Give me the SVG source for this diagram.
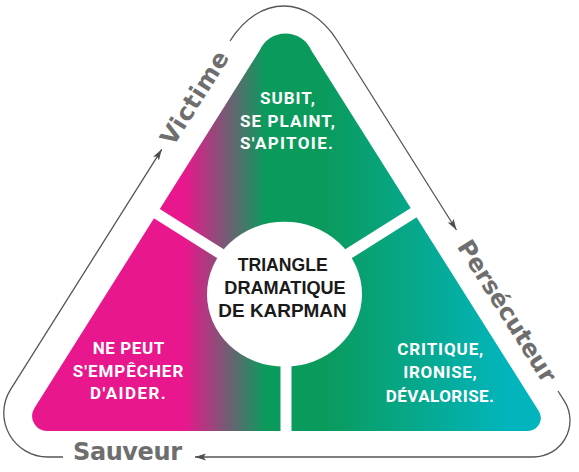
<svg xmlns="http://www.w3.org/2000/svg" width="579" height="472" viewBox="0 0 579 472">
<style>
.lab{font-family:"DejaVu Sans","Liberation Sans",sans-serif;font-weight:bold;font-size:24px;fill:#6e6e6e}
.wt{font-family:Roboto,"Liberation Sans",sans-serif;font-weight:bold;font-size:17px;fill:#ffffff}
.ct{font-family:"Liberation Sans",Arial,sans-serif;font-weight:bold;font-size:19px;fill:#1a1a1a}
.conn{fill:none;stroke:#555555;stroke-width:1.3}
.band{stroke:#ffffff;stroke-width:11;fill:none}
</style>
<defs>
<linearGradient id="grad" gradientUnits="userSpaceOnUse" x1="0" y1="0" x2="579" y2="0">
<stop offset="0" stop-color="#E8178D"/>
<stop offset="0.32" stop-color="#E8178D"/>
<stop offset="0.458" stop-color="#0A9B5C"/>
<stop offset="0.56" stop-color="#0A9B5C"/>
<stop offset="0.88" stop-color="#02B5BD"/>
<stop offset="1" stop-color="#02B5BD"/>
</linearGradient>
<marker id="ah" markerWidth="12" markerHeight="8" refX="11" refY="4" orient="auto" markerUnits="userSpaceOnUse">
<path d="M0,0.5 L11,4 L0,7.5 L2.5,4 z" fill="#4d4d4d"/>
</marker>
</defs>
<rect width="579" height="472" fill="#ffffff"/>
<g id="triangle">
<path d="M 259.78 50.33 A 28 28 0 0 1 311.22 50.33 L 538.75 411.08 A 13 13 0 0 1 527.76 431 L 47.16 431 A 15 15 0 0 1 34.47 408.02 Z" fill="url(#grad)"/>
<line class="band" x1="284.5" y1="294" x2="144.9" y2="206.1"/>
<line class="band" x1="284.5" y1="294" x2="424.1" y2="206.1"/>
<line class="band" x1="286" y1="294" x2="286" y2="440"/>
</g>
<g id="center">
<ellipse cx="284.5" cy="294.2" rx="77.5" ry="72.5" fill="#ffffff"/>
<text class="ct" x="237.7" y="271" textLength="90" lengthAdjust="spacingAndGlyphs">TRIANGLE</text>
<text class="ct" x="224.3" y="294.3" textLength="121.4" lengthAdjust="spacingAndGlyphs">DRAMATIQUE</text>
<text class="ct" x="218.3" y="316.7" textLength="128.4" lengthAdjust="spacingAndGlyphs">DE KARPMAN</text>
</g>
<g id="victime">
<text class="wt" x="260" y="104" textLength="55">SUBIT,</text>
<text class="wt" x="240" y="126.7" textLength="95">SE PLAINT,</text>
<text class="wt" x="240" y="149.3" textLength="93">S'APITOIE.</text>
<text class="lab" transform="translate(173.3,147.1) rotate(-57.8)" textLength="106">Victime</text>
</g>
<g id="sauveur">
<text class="wt" x="92.7" y="354" textLength="71.6">NE PEUT</text>
<text class="wt" x="72.7" y="376.7" textLength="110.6">S'EMPÊCHER</text>
<text class="wt" x="90" y="399.3" textLength="75.7">D'AIDER.</text>
<text class="lab" x="73" y="460" textLength="109">Sauveur</text>
</g>
<g id="persecuteur">
<text class="wt" x="397.3" y="355" textLength="86">CRITIQUE,</text>
<text class="wt" x="403.3" y="377.7" textLength="73.4">IRONISE,</text>
<text class="wt" x="385.7" y="401.7" textLength="108.3">DÉVALORISE.</text>
<text class="lab" transform="translate(456.6,246.5) rotate(57.8)" textLength="163">Persécuteur</text>
</g>
<g id="connectors">
<path class="conn" d="M 230 41 C 259.4 -5.67 308.1 -5.67 337.5 41 L 456.5 230" marker-end="url(#ah)"/>
<path class="conn" d="M 558 391 L 564.4 401.1 A 36.5 36.5 0 0 1 533.5 457 L 195 457" marker-end="url(#ah)"/>
<path class="conn" d="M 63 457 L 47.7 457 A 44 44 0 0 1 10.5 389.6 L 161.8 149.3" marker-end="url(#ah)"/>
</g>
</svg>
